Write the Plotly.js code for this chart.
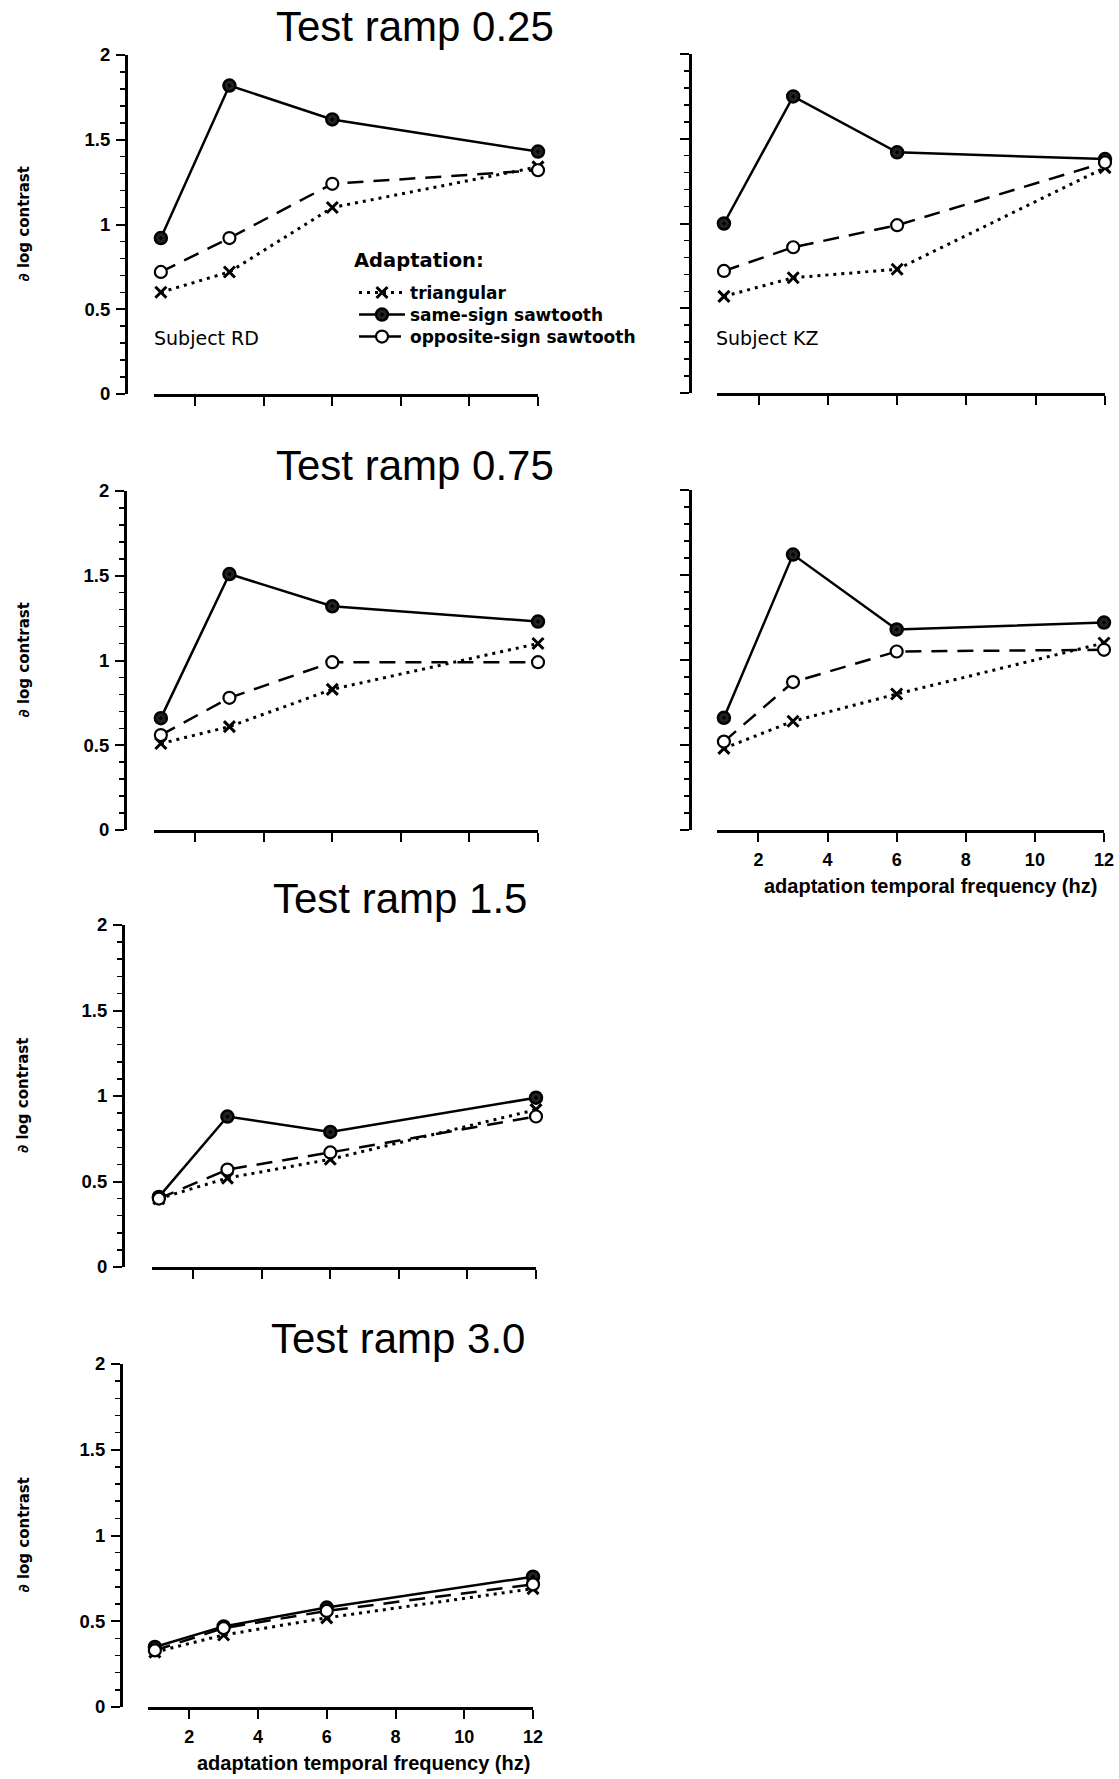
<!DOCTYPE html>
<html>
<head>
<meta charset="utf-8">
<script src="https://cdn.plot.ly/plotly-3.0.1.min.js"></script>
<style>
  html, body { margin: 0; padding: 0; background: #fff; }
  #chart { width: 1119px; height: 1779px; }
</style>
</head>
<body>
<div id="chart"></div>
<script>
// ---------------- DATA ----------------
const freq = [1, 3, 6, 12];                       // adaptation temporal frequency (hz)
const xTickVals = [2, 4, 6, 8, 10, 12];
const seriesNames = ['triangular', 'same-sign sawtooth', 'opposite-sign sawtooth'];
const panelTitles = ['Test ramp 0.25', 'Test ramp 0.75', 'Test ramp 1.5', 'Test ramp 3.0'];
const subjectLabels = ['Subject RD', 'Subject KZ'];
const yTitle = '\u2202 log contrast';
const xTitle = 'adaptation temporal frequency (hz)';
const legendTitle = 'Adaptation:';

// Test ramp 0.25, subject RD
const tri_RD_025  = [0.60, 0.72, 1.10, 1.34];
const same_RD_025 = [0.92, 1.82, 1.62, 1.43];
const opp_RD_025  = [0.72, 0.92, 1.24, 1.32];
// Test ramp 0.25, subject KZ
const tri_KZ_025  = [0.57, 0.68, 0.73, 1.33];
const same_KZ_025 = [1.00, 1.75, 1.42, 1.38];
const opp_KZ_025  = [0.72, 0.86, 0.99, 1.36];
// Test ramp 0.75, subject RD
const tri_RD_075  = [0.51, 0.61, 0.83, 1.10];
const same_RD_075 = [0.66, 1.51, 1.32, 1.23];
const opp_RD_075  = [0.56, 0.78, 0.99, 0.99];
// Test ramp 0.75, subject KZ
const tri_KZ_075  = [0.48, 0.64, 0.80, 1.10];
const same_KZ_075 = [0.66, 1.62, 1.18, 1.22];
const opp_KZ_075  = [0.52, 0.87, 1.05, 1.06];
// Test ramp 1.5, subject RD
const tri_RD_15   = [0.40, 0.52, 0.63, 0.92];
const same_RD_15  = [0.41, 0.88, 0.79, 0.99];
const opp_RD_15   = [0.40, 0.57, 0.67, 0.88];
// Test ramp 3.0, subject RD
const tri_RD_30   = [0.32, 0.42, 0.52, 0.69];
const same_RD_30  = [0.35, 0.47, 0.58, 0.76];
const opp_RD_30   = [0.33, 0.46, 0.56, 0.715];

// ---------------- LAYOUT GEOMETRY (pixels) ----------------
const W = 1119, H = 1779;
const fx = p => p / W;
const fy = p => 1 - p / H;
const FONT = 'Liberation Sans, Arial, Helvetica, sans-serif';
const WIDE = 'DejaVu Sans, Verdana, sans-serif';

const panels = [
  { series: [tri_RD_025, same_RD_025, opp_RD_025], yAxisX: 126, x0: 154, x1: 538, yTop: 55,   yBot: 394,  xLab: false, yLab: true,  title: 0, titleX: 274, titleBase: 42,   subject: 0 },
  { series: [tri_KZ_025, same_KZ_025, opp_KZ_025], yAxisX: 690, x0: 717, x1: 1105, yTop: 54,  yBot: 393,  xLab: false, yLab: false, title: -1, subject: 1 },
  { series: [tri_RD_075, same_RD_075, opp_RD_075], yAxisX: 125, x0: 154, x1: 538, yTop: 491,  yBot: 830,  xLab: false, yLab: true,  title: 1, titleX: 274, titleBase: 480 },
  { series: [tri_KZ_075, same_KZ_075, opp_KZ_075], yAxisX: 690, x0: 717, x1: 1104, yTop: 490, yBot: 830,  xLab: true,  yLab: false, title: -1, xTitleX: 930, xTitleY: 886 },
  { series: [tri_RD_15,  same_RD_15,  opp_RD_15],  yAxisX: 123, x0: 152, x1: 536, yTop: 925,  yBot: 1267, xLab: false, yLab: true,  title: 2, titleX: 271, titleBase: 913 },
  { series: [tri_RD_30,  same_RD_30,  opp_RD_30],  yAxisX: 121, x0: 148, x1: 533, yTop: 1364, yBot: 1707, xLab: true,  yLab: true,  title: 3, titleX: 269, titleBase: 1353, xTitleX: 363, xTitleY: 1763 }
];

const styles = [
  { dash: '3px,5px',   symbol: 'x-thin',     size: 11, color: '#000', lw: 3,   width: 3 },
  { dash: 'solid',     symbol: 'circle-dot', size: 12, color: '#222', lw: 2.5, width: 2.5 },
  { dash: '16px,10px', symbol: 'circle',     size: 12, color: '#fff', lw: 2.2, width: 2.5 }
];
const legendKeys = ['legend', 'legend2', 'legend3'];
const legendRowY = [293, 315, 337];

const traces = [];
const layout = {
  width: W, height: H,
  margin: { l: 0, r: 0, t: 0, b: 0 },
  paper_bgcolor: '#fff', plot_bgcolor: 'rgba(0,0,0,0)',
  font: { family: FONT, color: '#000' },
  showlegend: true,
  annotations: [],
  hovermode: false
};
legendKeys.forEach((k, s) => {
  layout[k] = {
    x: fx(354), y: fy(legendRowY[s]), xanchor: 'left', yanchor: 'middle',
    bgcolor: 'rgba(0,0,0,0)', borderwidth: 0,
    font: { size: 17, weight: 'bold', family: WIDE, color: '#000' },
    itemwidth: 46, traceorder: 'normal'
  };
});
layout.annotations.push({
  text: legendTitle, xref: 'paper', yref: 'paper',
  x: fx(352), y: fy(260), xanchor: 'left', yanchor: 'middle',
  showarrow: false, font: { size: 19.5, weight: 'bold', family: WIDE }
});

panels.forEach((p, i) => {
  const n = i === 0 ? '' : String(i + 1);
  layout['xaxis' + n] = {
    domain: [fx(p.x0), fx(p.x1)], range: [0.8, 12], anchor: 'y' + n,
    showline: true, linewidth: 2.5, linecolor: '#000',
    ticks: 'outside', ticklen: 9, tickwidth: 2, tickcolor: '#000',
    tickmode: 'array', tickvals: xTickVals,
    showticklabels: p.xLab, ticklabelstandoff: 3,
    tickfont: { size: 18, weight: 'bold', family: FONT },
    showgrid: false, zeroline: false, fixedrange: true
  };
  layout['yaxis' + n] = {
    domain: [fy(p.yBot), fy(p.yTop)], range: [0, 2],
    anchor: 'free', position: fx(p.yAxisX),
    showline: true, linewidth: 2.5, linecolor: '#000',
    ticks: 'outside', ticklen: 9, tickwidth: 2, tickcolor: '#000',
    tick0: 0, dtick: 0.5,
    minor: { dtick: 0.1, tick0: 0, ticks: 'outside', ticklen: 5, tickwidth: 1.5, tickcolor: '#000' },
    showticklabels: p.yLab, ticklabelstandoff: 2,
    tickfont: { size: 18.5, weight: 'bold', family: FONT },
    showgrid: false, zeroline: false, fixedrange: true
  };

  p.series.forEach((vals, s) => {
    const st = styles[s];
    traces.push({
      type: 'scatter', mode: 'lines+markers',
      x: freq, y: vals,
      xaxis: 'x' + n, yaxis: 'y' + n,
      name: seriesNames[s], legendgroup: seriesNames[s],
      legend: legendKeys[s],
      showlegend: i === 0,
      cliponaxis: false,
      line: { color: '#000', width: st.width, dash: st.dash },
      marker: { symbol: st.symbol, size: st.size, color: st.color, line: { color: '#000', width: st.lw } },
      hoverinfo: 'skip'
    });
  });

  if (p.title >= 0) {
    layout.annotations.push({
      text: panelTitles[p.title], xref: 'paper', yref: 'paper',
      x: fx(p.titleX), y: fy(p.titleBase - 15), xanchor: 'left', yanchor: 'middle',
      showarrow: false, font: { size: 42, family: FONT, color: '#000' }
    });
  }
  if (p.yLab) {
    layout.annotations.push({
      text: yTitle, xref: 'paper', yref: 'paper', textangle: -90,
      x: fx(23), y: fy((p.yTop + p.yBot) / 2), xanchor: 'center', yanchor: 'middle',
      showarrow: false, font: { size: 15, weight: 'bold', family: WIDE }
    });
  }
  if (p.xLab) {
    layout.annotations.push({
      text: xTitle, xref: 'paper', yref: 'paper',
      x: fx(p.xTitleX), y: fy(p.xTitleY), xanchor: 'center', yanchor: 'middle',
      showarrow: false, font: { size: 20, weight: 'bold', family: FONT }
    });
  }
  if (p.subject !== undefined) {
    layout.annotations.push({
      text: subjectLabels[p.subject], xref: 'paper', yref: 'paper',
      x: fx(p.subject === 0 ? 152 : 714), y: fy(338), xanchor: 'left', yanchor: 'middle',
      showarrow: false, font: { size: 19, family: WIDE }
    });
  }
});

Plotly.newPlot('chart', traces, layout, { displayModeBar: false, staticPlot: true });
</script>
</body>
</html>
